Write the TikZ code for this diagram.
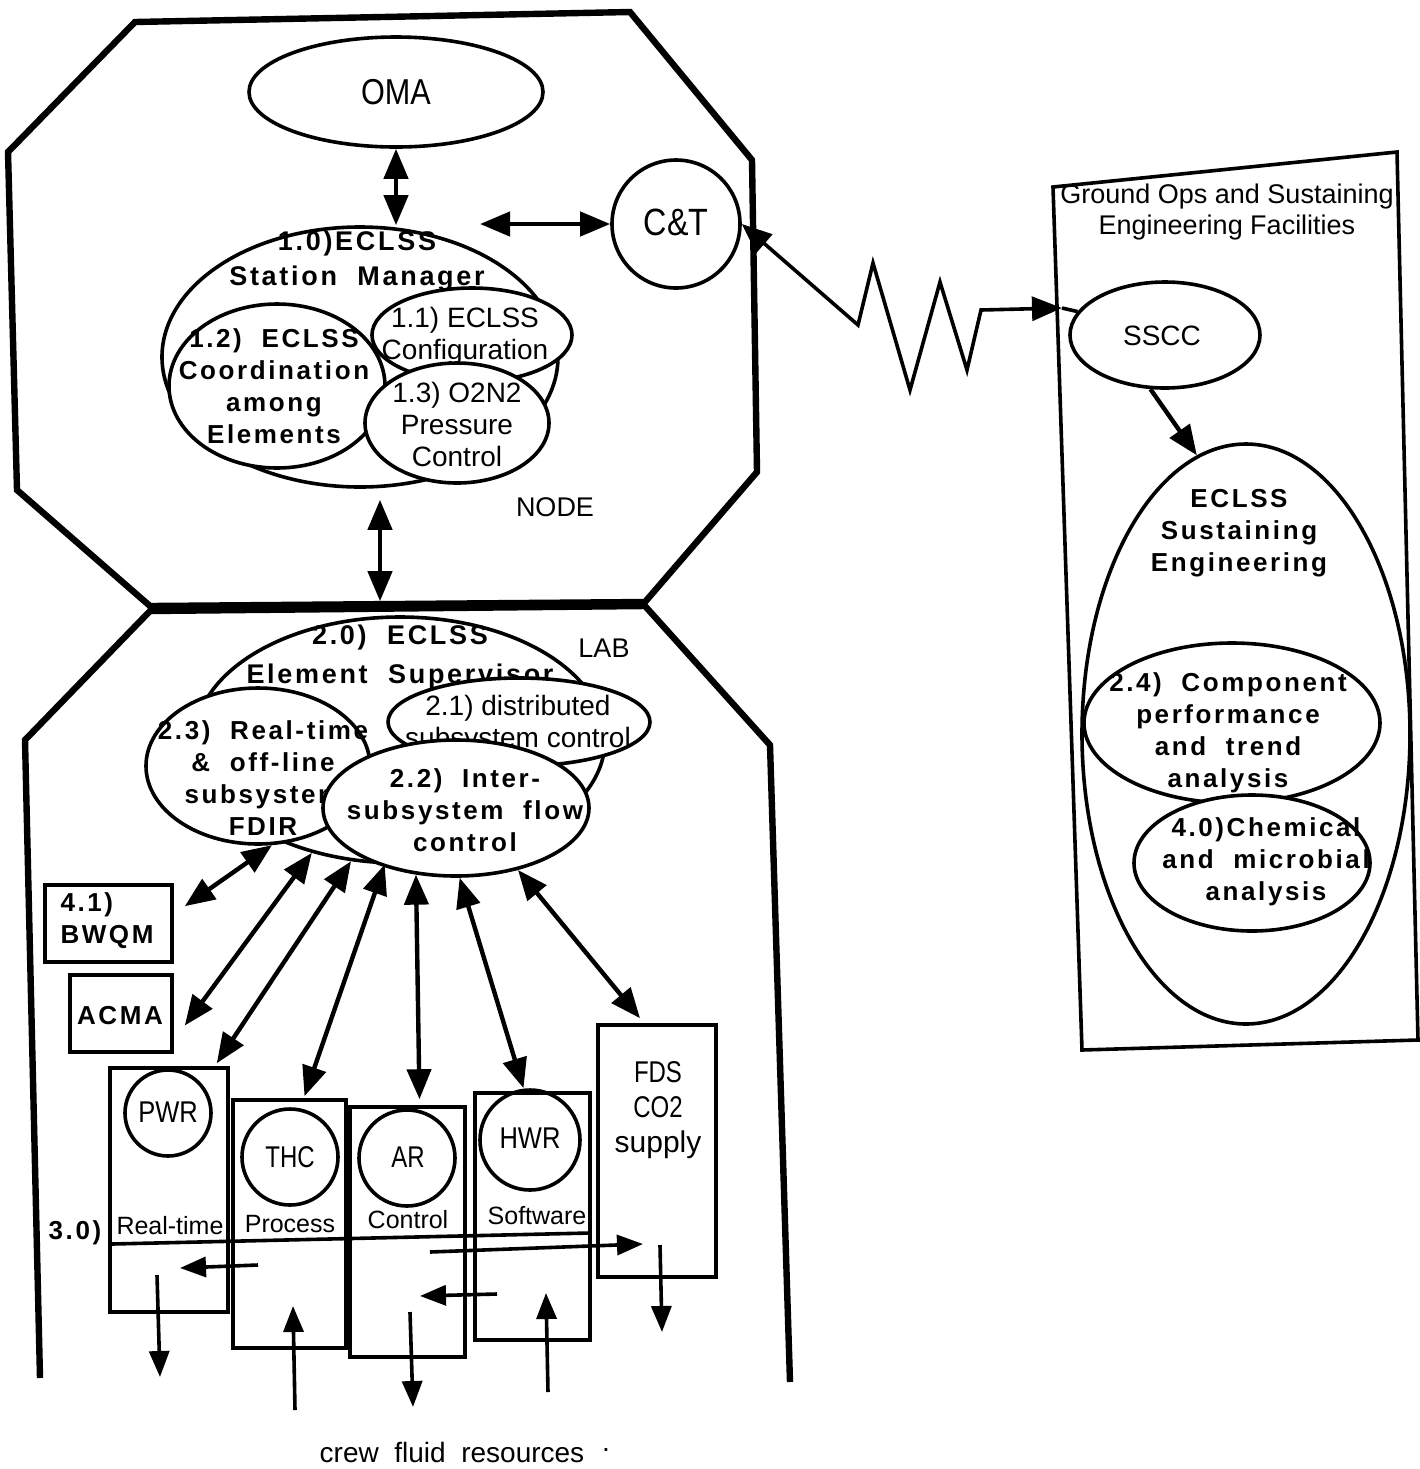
\documentclass[tikz,border=0pt]{standalone}
\usepackage{fontspec}
\usepackage{graphicx}
\setmainfont{Liberation Sans}
\newfontfamily\wide[LetterSpace=10]{Liberation Sans}
\usetikzlibrary{arrows.meta,shapes.geometric,calc}

\begin{document}
\begin{tikzpicture}[x=0.5pt,y=-0.5pt,
  oval/.style={draw,ellipse,line width=1.8pt,inner sep=0pt},
  ovalw/.style={oval,fill=white},
  ring/.style={draw,circle,line width=1.8pt,inner sep=0pt},
  box/.style={draw,rectangle,line width=1.8pt,inner sep=0pt},
  wall/.style={line width=3.2pt,line join=miter},
  bi/.style={line width=2.2pt,{Triangle[length=15pt,width=12pt]}-{Triangle[length=15pt,width=12pt]}},
  fwd/.style={line width=2.2pt,-{Triangle[length=15pt,width=12pt]}},
  one/.style={line width=1.8pt,-{Triangle[length=13pt,width=10pt]}},
  bt/.style={font=\wide\bfseries\fontsize{13}{16}\selectfont,align=center,inner sep=0pt},
  rt/.style={font=\fontsize{14}{16}\selectfont,align=center,inner sep=0pt},
]
\useasboundingbox (0,0) rectangle (1420,1469);

% ---------------- module outlines ----------------
\draw[wall] (135,22) -- (630,12) -- (752,160) -- (757,472) -- (645,602)
  -- (150,606) -- (17,490) -- (8,152) -- cycle;
\draw[wall] (40,1378) -- (25,740) -- (150,611) -- (645,606) -- (770,745) -- (790,1382);
\node[rt,font=\fontsize{13.5}{16}\selectfont] (nodelbl) at (555,507) {NODE};
\node[rt,font=\fontsize{13.5}{16}\selectfont] (lablbl) at (604,648) {LAB};

% ---------------- station manager (node) ----------------
\node[oval,minimum width=147pt,minimum height=55pt] (oma) at (396,92) {};
\node[rt,font=\fontsize{18}{20}\selectfont] (omat) at (396,92) {\scalebox{0.85}[1]{OMA}};

\node[oval,minimum width=198pt,minimum height=130pt] (m10) at (360,357) {};
\node[bt,font=\wide\bfseries\fontsize{13.5}{17.5}\selectfont] (t10) at (357,261) {1.0)ECLSS\\Station\ \ Manager};

\node[ovalw,minimum width=108pt,minimum height=82pt] (m12) at (277,386) {};
\node[bt] (t12) at (274,386) {1.2)\ \ ECLSS\\Coordination\\among\\Elements};

\node[ovalw,minimum width=100pt,minimum height=47pt] (m11) at (472,335) {};
\node[rt] (t11) at (465,336) {1.1) ECLSS\\Configuration};

\node[ovalw,minimum width=92pt,minimum height=60pt] (m13) at (457,423) {};
\node[rt] (t13) at (457,424) {1.3) O2N2\\Pressure\\Control};

\node[ring,minimum size=64pt] (ct) at (676,224) {};
\node[rt,font=\fontsize{19}{20}\selectfont] (ctt) at (676,222) {\scalebox{0.85}[1]{C\&T}};

\draw[bi] (oma.south) -- (oma.south |- m10.north);
\draw[bi] (ct.west) -- ($(ct.west -| m10.45)+(10,0)$);

% ---------------- element supervisor (lab) ----------------
\node[oval,minimum width=205pt,minimum height=123pt] (e20) at (400,740) {};
\node[bt,font=\wide\bfseries\fontsize{13.5}{19.5}\selectfont] (t20) at (400,657) {2.0)\ \ ECLSS\\Element\ \ Supervisor};

\node[ovalw,minimum width=112pt,minimum height=78pt] (e23) at (258,766) {};
\node[bt] (t23) at (263,778) {2.3)\ \ Real-time\\\&\ \ off-line\\subsystem\\FDIR};

\node[ovalw,minimum width=131pt,minimum height=44pt] (e21) at (519,722) {};
\node[rt] (t21) at (518,724) {2.1) distributed\\subsystem control};

\node[ovalw,minimum width=133pt,minimum height=68pt] (e22) at (456,808) {};
\node[bt] (t22) at (465,810) {2.2)\ \ Inter-\\subsystem\ \ flow\\control};

\draw[bi] ($(m10.south)+(20,11)$) -- ($(e20.north)+(-20,-14)$);

% ---------------- subsystems ----------------
\node[box,minimum width=63.5pt,minimum height=38.5pt] (bwqm) at (108.5,923.5) {};
\node[bt,align=left] (bwqmt) at (107,921) {4.1)\\BWQM};
\node[box,minimum width=51pt,minimum height=38.5pt] (acma) at (121,1013.5) {};
\node[bt] (acmat) at (120,1016) {ACMA};

\node[box,minimum width=59pt,minimum height=122pt] (pwr) at (169,1190) {};
\node[box,minimum width=56.5pt,minimum height=124pt] (thc) at (289.5,1224) {};
\node[box,minimum width=57.5pt,minimum height=125pt] (ar) at (407.5,1232) {};
\node[box,minimum width=57.5pt,minimum height=123.5pt] (hwr) at (532.5,1216.5) {};
\node[box,minimum width=59pt,minimum height=126pt] (fds) at (657,1151) {};

\node[ring,minimum size=43pt] (pwrc) at (168,1113) {};
\node[ring,minimum size=48pt] (thcc) at (290,1157) {};
\node[ring,minimum size=48pt] (arc) at (407,1158) {};
\node[ring,minimum size=50pt] (hwrc) at (530,1140) {};
\node[rt,font=\fontsize{15}{16}\selectfont] (pwrt) at (168,1112) {\scalebox{0.85}[1]{PWR}};
\node[rt,font=\fontsize{15}{16}\selectfont] (thct) at (290,1157) {\scalebox{0.8}[1]{THC}};
\node[rt,font=\fontsize{15}{16}\selectfont] (art) at (408,1157) {\scalebox{0.8}[1]{AR}};
\node[rt,font=\fontsize{15}{16}\selectfont] (hwrt) at (530,1138) {\scalebox{0.85}[1]{HWR}};
\node[rt,font=\fontsize{15}{17.5}\selectfont] (fdst) at (658,1110) {\scalebox{0.8}[1]{FDS}\\\scalebox{0.8}[1]{CO2}\\supply};

\node[rt,font=\fontsize{12.5}{14}\selectfont] (l1) at (170,1226) {Real-time};
\node[rt,font=\fontsize{12.5}{14}\selectfont] (l2) at (290,1224) {Process};
\node[rt,font=\fontsize{12.5}{14}\selectfont] (l3) at (408,1220) {Control};
\node[rt,font=\fontsize{12.5}{14}\selectfont] (l4) at (537,1216) {Software};
\node[bt] (t30) at (75,1233) {3.0)};
\draw[line width=1.8pt] (112,1244) -- (590,1233);

\draw[bi] (e23.-80) -- ($(bwqm.north east)+(11,23)$);
\draw[bi] (e20.-128) -- ($(acma.east)+(11,12)$);
\draw[bi] (e20.-112) -- ($(pwr.north east)+(-13,-3)$);
\draw[bi] (e20.-97) -- ($(thc.north)+(15,-2)$);
\draw[bi] (e22.-121) -- ($(ar.north)+(12,-6)$);
\draw[bi] (e22.-87) -- ($(hwr.north)+(-9,-3)$);
\draw[bi] (e22.-45) -- ($(fds.north)+(-17,-5)$);

% resource flows between subsystems
\coordinate (fa) at (258,1265); \coordinate (fb) at (180,1268);
\coordinate (fc) at (430,1252); \coordinate (fd) at (643,1244);
\coordinate (fe) at (497,1294); \coordinate (ff) at (420,1296);
\coordinate (o1a) at (157,1275); \coordinate (o1b) at (160,1377);
\coordinate (o2a) at (410,1312); \coordinate (o2b) at (413,1407);
\coordinate (o3a) at (660,1245); \coordinate (o3b) at (662,1332);
\coordinate (i1a) at (295,1410); \coordinate (i1b) at (293,1306);
\coordinate (i2a) at (548,1392); \coordinate (i2b) at (546,1293);
\draw[one] (fa) -- (fb);
\draw[one] (fc) -- (fd);
\draw[one] (fe) -- (ff);
\draw[one] (o1a) -- (o1b);
\draw[one] (o2a) -- (o2b);
\draw[one] (o3a) -- (o3b);
\draw[one] (i1a) -- (i1b);
\draw[one] (i2a) -- (i2b);

\node[rt] (crew) at (452,1452) {crew\ \ fluid\ \ resources};
\node[rt] (dot) at (606,1450) {.};

% ---------------- ground facilities ----------------
\draw[line width=1.8pt] (1053,187) -- (1397,152) -- (1418,1040) -- (1082,1050) -- cycle;
\node[rt,font=\fontsize{13.5}{15.5}\selectfont] (gt) at (1227,212) {Ground Ops and Sustaining\\Engineering Facilities};

\node[oval,minimum width=95pt,minimum height=53pt] (sscc) at (1165,335) {};
\node[rt] (sscct) at (1162,336) {SSCC};

\node[oval,minimum width=164pt,minimum height=290pt] (sust) at (1246,734) {};
\node[bt] (sustt) at (1239,533) {ECLSS\\Sustaining\\Engineering};

\node[oval,minimum width=148pt,minimum height=80pt] (e24) at (1232,723) {};
\node[bt] (t24) at (1228,733) {2.4)\ \ Component\\performance\\and\ \ trend\\analysis};

\node[ovalw,minimum width=118pt,minimum height=68pt] (e40) at (1252,863) {};
\node[bt] (t40) at (1266,862) {4.0)Chemical\\and\ \ microbial\\analysis};

\draw[fwd] (sscc.-105) -- (sust.100);

% space-to-ground link
\coordinate (gin) at (1062,308);
\draw[bi,line width=1.8pt,line join=miter] (ct.east) -- (858,325) -- (873,263) -- (910,390)
  -- (940,282) -- (967,370) -- (981,310) -- (gin);
\draw[line width=1.8pt] (gin) -- (sscc.165);

\end{tikzpicture}
\end{document}
